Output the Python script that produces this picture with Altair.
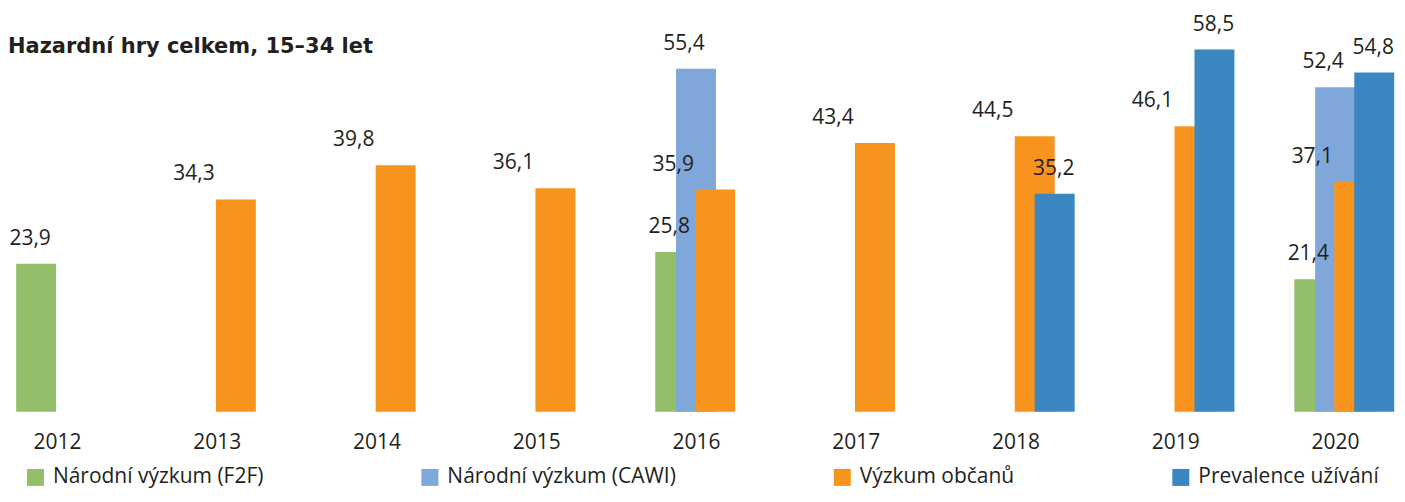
import altair as alt
import pandas as pd

years = [2012, 2013, 2014, 2015, 2016, 2017, 2018, 2019, 2020]
series_names = ["Národní výzkum (F2F)", "Národní výzkum (CAWI)", "Výzkum občanů", "Prevalence užívání"]
f2f = [23.9, None, None, None, 25.8, None, None, None, 21.4]
cawi = [None, None, None, None, 55.4, None, None, None, 52.4]
obcanu = [None, 34.3, 39.8, 36.1, 35.9, 43.4, 44.5, 46.1, 37.1]
prevalence = [None, None, None, None, None, None, 35.2, 58.5, 54.8]
colors = ["#93BE6A", "#7FA7D9", "#F7941D", "#3B87C1"]
title_text = "Hazardní hry celkem, 15–34 let"

rows = []
for k, (name, vals) in enumerate(zip(series_names, [f2f, cawi, obcanu, prevalence])):
    for yr, v in zip(years, vals):
        if v is not None:
            rows.append({"year": yr, "series": name, "k": k, "value": v})
df = pd.DataFrame(rows)

TXT = "#231F20"
FONT = "Open Sans"

xscale = alt.Scale(domain=[2011.75, 2020.35], nice=False, zero=False, padding=0)
xaxis = alt.Axis(values=years, format="d", title=None, grid=False, domain=False,
                 ticks=False, labelFont=FONT, labelFontSize=21, labelColor=TXT,
                 labelPadding=20, labelFlush=False, labelOverlap=False)
yscale = alt.Scale(domain=[0, 60], nice=False, padding=0)

base = alt.Chart(df).transform_calculate(
    xpos="datum.year + [-0.13, 0, 0.12, 0.245][datum.k]",
).transform_calculate(
    lx="datum.xpos + [-6, -12, -42, -1][datum.k] / 160",
    label="replace(format(datum.value, '.1f'), '.', ',')",
)

bars = base.mark_bar(width=40).encode(
    x=alt.X("xpos:Q", scale=xscale, axis=xaxis),
    y=alt.Y("value:Q", scale=yscale, axis=None, stack=None),
    color=alt.Color("series:N",
                    scale=alt.Scale(domain=series_names, range=colors),
                    legend=alt.Legend(title=None, orient="none", legendX=8, legendY=427,
                                      direction="horizontal", columns=4,
                                      symbolType="square", symbolSize=289, symbolStrokeWidth=0,
                                      labelFont=FONT, labelFontSize=21, labelColor=TXT,
                                      labelLimit=500, labelOffset=7, columnPadding=156,
                                      padding=0)),
)

labels = base.mark_text(font=FONT, fontSize=21, color=TXT, baseline="middle", dy=-25).encode(
    x=alt.X("lx:Q", scale=xscale, axis=xaxis),
    y=alt.Y("value:Q", scale=yscale, stack=None, axis=None),
    text="label:N",
)

title = alt.Chart(pd.DataFrame({"t": [title_text]})).mark_text(
    font="DejaVu Sans", fontSize=21, fontWeight="bold", align="left", baseline="alphabetic", color=TXT
).encode(x=alt.value(-9), y=alt.value(13), text="t:N")

chart = alt.layer(bars, labels, title).properties(
    width=1376, height=372,
    padding={"left": 9, "top": 32, "right": 6, "bottom": 78},
    autosize=alt.AutoSizeParams(type="none"),
).configure_view(stroke=None)

chart.save("out.html", embed_options={"renderer": "svg", "actions": False})
